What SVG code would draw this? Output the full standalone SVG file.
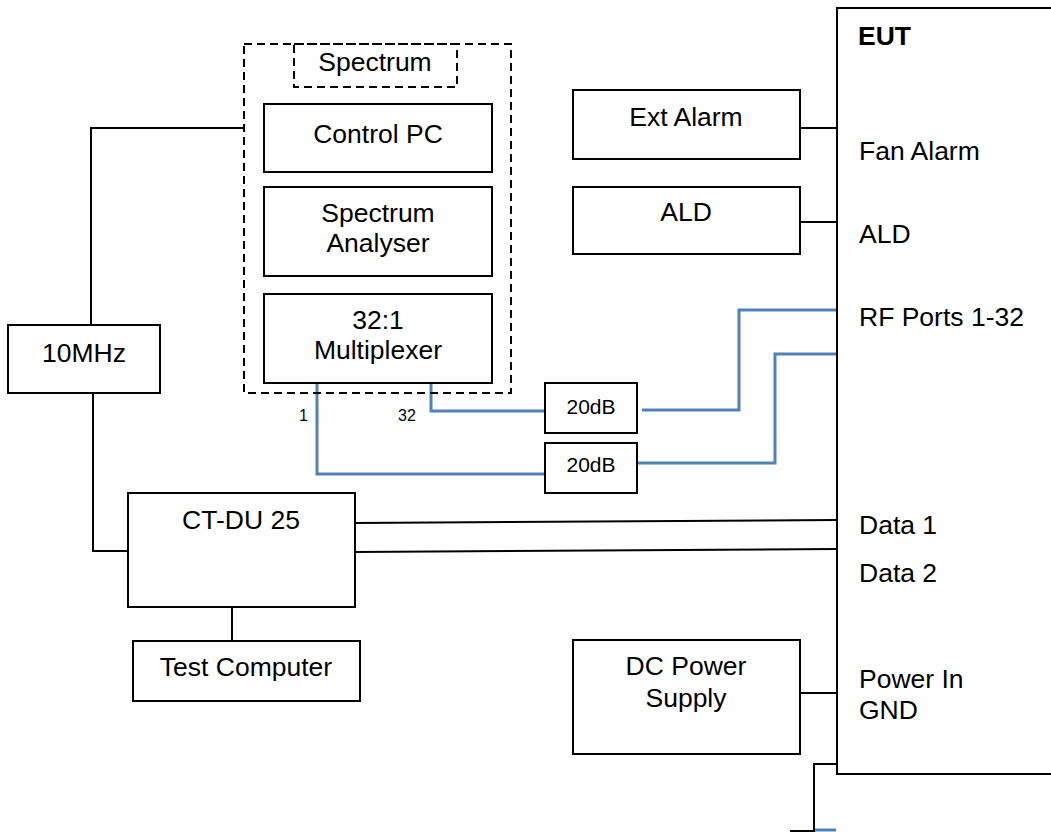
<svg xmlns="http://www.w3.org/2000/svg" width="1051" height="832" viewBox="0 0 1051 832">
  <style>
    .box { fill: #ffffff; stroke: #000000; stroke-width: 2; }
    .dash { fill: none; stroke: #000000; stroke-width: 2; stroke-dasharray: 8 5; }
    .wire { fill: none; stroke: #000000; stroke-width: 2; }
    .rf { fill: none; stroke: #4f81bd; stroke-width: 3; }
    text { font-family: "Liberation Sans", Arial, sans-serif; font-size: 26.5px; fill: #000000; }
    .c { text-anchor: middle; }
    .small { font-size: 16px; }
    .att { font-size: 21px; }
    .bold { font-weight: bold; }
  </style>
  <rect width="1051" height="832" fill="#ffffff"/>

  <!-- connectors -->
  <g id="connectors">
    <!-- reference clock -->
    <polyline class="wire" points="91,325 91,128 244,128"/>
    <polyline class="wire" points="60,393 93,393 93,551 128,551"/>
    <!-- CT-DU to test computer -->
    <line class="wire" x1="232" y1="607" x2="232" y2="641"/>
    <!-- data links -->
    <line class="wire" x1="355" y1="523" x2="837" y2="520"/>
    <line class="wire" x1="355" y1="552" x2="837" y2="549"/>
    <!-- alarm, ALD, power -->
    <line class="wire" x1="800" y1="128" x2="837" y2="128"/>
    <line class="wire" x1="800" y1="222" x2="837" y2="222"/>
    <line class="wire" x1="800" y1="693" x2="837" y2="693"/>
    <!-- ground -->
    <polyline class="wire" points="837,764 814,764 814,831 790,831"/>
    <line class="rf" x1="815" y1="830" x2="836" y2="830"/>
    <!-- RF paths through attenuators -->
    <polyline class="rf" points="431,383 431,411 545,411"/>
    <polyline class="rf" points="317,383 317,474 545,474"/>
    <polyline class="rf" points="642,410 739,410 739,310 837,310"/>
    <polyline class="rf" points="637,463 775,463 775,354 837,354"/>
  </g>

  <!-- measurement rack -->
  <g id="spectrum-rack">
    <rect class="dash" x="244" y="44" width="267" height="349"/>
    <rect class="dash" x="294" y="44" width="163" height="43"/>
    <text class="c" x="375" y="71">Spectrum</text>
  </g>
  <g id="control-pc">
    <rect class="box" x="264" y="104" width="228" height="68"/>
    <text class="c" x="378" y="143">Control PC</text>
  </g>
  <g id="spectrum-analyser">
    <rect class="box" x="264" y="187" width="228" height="89"/>
    <text class="c" x="378" y="222">Spectrum</text>
    <text class="c" x="378" y="252">Analyser</text>
  </g>
  <g id="multiplexer">
    <rect class="box" x="264" y="294" width="228" height="89"/>
    <text class="c" x="378" y="329">32:1</text>
    <text class="c" x="378" y="359">Multiplexer</text>
  </g>
  <g id="port-labels">
    <text class="small" x="299" y="421">1</text>
    <text class="small" x="398" y="421">32</text>
  </g>

  <g id="att-1">
    <rect class="box" x="545" y="383" width="92" height="50"/>
    <text class="c att" x="591" y="414">20dB</text>
  </g>
  <g id="att-2">
    <rect class="box" x="545" y="443" width="92" height="50"/>
    <text class="c att" x="591" y="472">20dB</text>
  </g>

  <g id="ref-10mhz">
    <rect class="box" x="8" y="325" width="152" height="68"/>
    <text class="c" x="84" y="362">10MHz</text>
  </g>
  <g id="ct-du">
    <rect class="box" x="128" y="493" width="227" height="114"/>
    <text class="c" x="241" y="529">CT-DU 25</text>
  </g>
  <g id="test-computer">
    <rect class="box" x="133" y="641" width="227" height="60"/>
    <text class="c" x="246" y="676">Test Computer</text>
  </g>

  <g id="ext-alarm">
    <rect class="box" x="573" y="90" width="227" height="69"/>
    <text class="c" x="686" y="126">Ext Alarm</text>
  </g>
  <g id="ald">
    <rect class="box" x="573" y="187" width="227" height="67"/>
    <text class="c" x="686" y="221">ALD</text>
  </g>
  <g id="dc-power">
    <rect class="box" x="573" y="640" width="227" height="114"/>
    <text class="c" x="686" y="675">DC Power</text>
    <text class="c" x="686" y="707">Supply</text>
  </g>

  <g id="eut">
    <rect class="box" x="837" y="8" width="230" height="766"/>
    <text class="bold" x="858" y="45">EUT</text>
    <text x="859" y="160">Fan Alarm</text>
    <text x="859" y="243">ALD</text>
    <text x="859" y="326">RF Ports 1-32</text>
    <text x="859" y="534">Data 1</text>
    <text x="859" y="582">Data 2</text>
    <text x="859" y="688">Power In</text>
    <text x="859" y="719">GND</text>
  </g>
</svg>
